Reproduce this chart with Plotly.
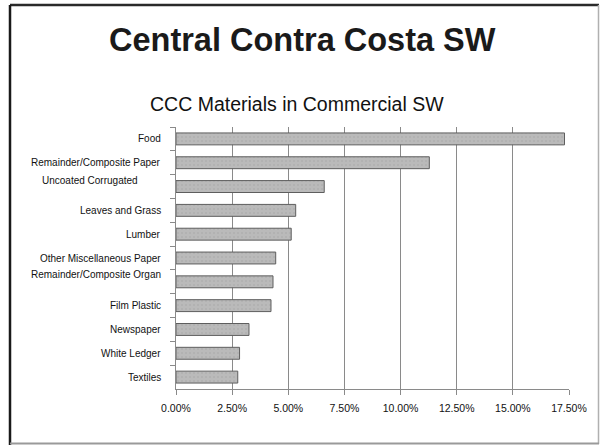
import plotly.graph_objects as go

categories = ["Food", "Remainder/Composite Paper", "Uncoated Corrugated", "Leaves and Grass",
              "Lumber", "Other Miscellaneous Paper", "Remainder/Composite Organ", "Film Plastic",
              "Newspaper", "White Ledger", "Textiles"]
values = [0.173, 0.1128, 0.066, 0.0533, 0.0513, 0.0444, 0.0432, 0.0423, 0.0325, 0.0283, 0.0275]
tick_vals = [0, 0.025, 0.05, 0.075, 0.10, 0.125, 0.15, 0.175]

fig = go.Figure(go.Bar(
    x=values, y=categories, orientation="h", width=0.5,
    marker=dict(color="#bababa", line=dict(color="#5e5e5e", width=1),
                pattern=dict(shape=".", fgcolor="#a4a4a4", size=4, solidity=0.2, fillmode="overlay")),
    showlegend=False,
))

L, R, T, B = 176, 32, 127, 56
W, H = 601, 445
pw, ph = W - L - R, H - T - B

def px(x):
    return (x - L) / pw

def py(y):
    return (H - B - y) / ph

FONT = "Liberation Sans, Arial"
yshift = {"Uncoated Corrugated": 6, "Remainder/Composite Organ": 7}
annots = []
for c in categories:
    if c == "Uncoated Corrugated":
        annots.append(dict(x=px(90), xref="paper", y=c, yref="y", text=c, showarrow=False,
                           xanchor="center", yshift=yshift[c],
                           font=dict(family=FONT, size=10, color="#111")))
    else:
        annots.append(dict(x=px(163), xref="paper", y=c, yref="y", text=c, showarrow=False,
                           xanchor="right", yshift=yshift.get(c, 0),
                           font=dict(family=FONT, size=10, color="#111")))

annots.append(dict(x=px(297), xref="paper", y=py(104), yref="paper", text="CCC Materials in Commercial SW",
                   showarrow=False, xanchor="center", yanchor="middle",
                   font=dict(family=FONT, size=19.5, color="#111")))
annots.append(dict(x=px(302), xref="paper", y=py(40), yref="paper", text="<b>Central Contra Costa SW</b>",
                   showarrow=False, xanchor="center", yanchor="middle",
                   font=dict(family=FONT, size=32.5, color="#1a1a1a")))

shapes = [
    dict(type="line", xref="paper", yref="paper", x0=px(10), x1=px(599), y0=py(5), y1=py(5),
         line=dict(color="#2a2a2a", width=2.5)),
    dict(type="line", xref="paper", yref="paper", x0=px(10), x1=px(10), y0=py(5), y1=py(445),
         line=dict(color="#1a1a1a", width=2.5)),
    dict(type="line", xref="paper", yref="paper", x0=px(598.5), x1=px(598.5), y0=py(5), y1=py(444),
         line=dict(color="#b0b0b0", width=1.5)),
    dict(type="line", xref="paper", yref="paper", x0=px(10), x1=px(599), y0=py(443.5), y1=py(443.5),
         line=dict(color="#9a9a9a", width=2)),
]

fig.update_layout(
    width=W, height=H,
    margin=dict(l=L, r=R, t=T, b=B),
    paper_bgcolor="white", plot_bgcolor="white",
    annotations=annots, shapes=shapes,
    xaxis=dict(range=[0, 0.175], tickvals=tick_vals, tickformat=".2%",
               showgrid=True, gridcolor="#8a8a8a", gridwidth=1,
               showline=True, linecolor="#8a8a8a", linewidth=1,
               ticks="outside", ticklen=5, tickcolor="#8a8a8a", ticklabelstandoff=4,
               tickfont=dict(family=FONT, size=10.5, color="#111"),
               zeroline=False, fixedrange=True),
    yaxis=dict(autorange="reversed", showticklabels=False,
               showline=True, linecolor="#8a8a8a", linewidth=1,
               ticks="outside", ticklen=5, tickcolor="#8a8a8a", tickson="boundaries",
               showgrid=False, fixedrange=True),
)

fig.write_html("out.html", config={"displayModeBar": False},
               post_script="document.body.style.margin='0';document.body.style.overflow='hidden';")
